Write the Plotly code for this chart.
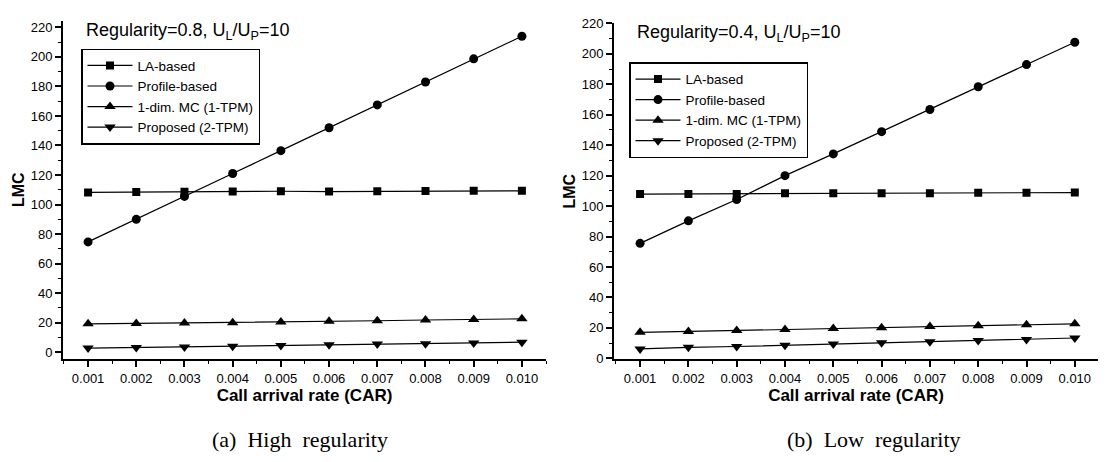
import plotly.graph_objects as go

car = [0.001, 0.002, 0.003, 0.004, 0.005, 0.006, 0.007, 0.008, 0.009, 0.010]
car_labels = ["0.001", "0.002", "0.003", "0.004", "0.005", "0.006", "0.007", "0.008", "0.009", "0.010"]

series_names = ["LA-based", "Profile-based", "1-dim. MC (1-TPM)", "Proposed (2-TPM)"]

# (a) High regularity
high_la = [108.2, 108.5, 108.6, 108.8, 109.0, 108.8, 109.0, 109.1, 109.4, 109.3]
high_profile = [74.7, 90.0, 105.5, 121.0, 136.5, 152.0, 167.5, 183.0, 198.7, 214.0]
high_1tpm = [19.2, 19.5, 19.8, 20.0, 20.5, 21.0, 21.3, 21.8, 22.2, 22.6]
high_2tpm = [2.8, 3.2, 3.6, 4.0, 4.5, 5.0, 5.5, 5.8, 6.2, 6.8]

# (b) Low regularity
low_la = [107.9, 108.0, 108.0, 108.5, 108.4, 108.5, 108.5, 108.8, 108.8, 108.9]
low_profile = [75.5, 90.3, 104.3, 120.0, 134.3, 148.9, 163.5, 178.4, 193.0, 207.7]
low_1tpm = [17.0, 17.6, 18.2, 18.9, 19.5, 20.1, 20.8, 21.4, 22.0, 22.6]
low_2tpm = [6.1, 7.2, 7.7, 8.5, 9.3, 10.1, 10.8, 11.6, 12.3, 13.3]

symbols = ["square", "circle", "triangle-up", "triangle-down"]
sizes = [8, 9, 10, 10]

W, H = 1106, 462
FONT = "Liberation Sans, Arial, sans-serif"
SERIF = "Liberation Serif, DejaVu Serif, serif"
NB = "\u00a0"

fig = go.Figure()

panels = [
    dict(data=[high_la, high_profile, high_1tpm, high_2tpm], xa="x", ya="y", legend="legend"),
    dict(data=[low_la, low_profile, low_1tpm, low_2tpm], xa="x2", ya="y2", legend="legend2"),
]

for p in panels:
    for name, vals, sym, sz in zip(series_names, p["data"], symbols, sizes):
        fig.add_trace(go.Scatter(
            x=car, y=vals, name=name, mode="lines+markers",
            line=dict(color="black", width=1.2),
            marker=dict(symbol=sym, size=sz, color="black"),
            xaxis=p["xa"], yaxis=p["ya"], legend=p["legend"],
        ))


def px_x(v):
    return v / W


def px_y(v):
    return 1 - v / H


axis_common = dict(
    showline=True, linecolor="black", linewidth=2, mirror=False,
    ticks="outside", ticklen=6, tickwidth=1.5, tickcolor="black",
    showgrid=False, zeroline=False,
    tickfont=dict(family=FONT, size=13, color="black"),
)

xaxis_common = dict(
    axis_common,
    tickvals=car, ticktext=car_labels,
    minor=dict(ticks="outside", ticklen=3, tickwidth=1.2, tickcolor="black", dtick=0.0005, tick0=0.0005),
    title=dict(text="<b>Call arrival rate (CAR)</b>", font=dict(family=FONT, size=17, color="black"), standoff=0),
)
yaxis_common = dict(
    axis_common,
    dtick=20, tick0=0,
    minor=dict(ticks="outside", ticklen=3, tickwidth=1.2, tickcolor="black", dtick=10, tick0=0),
    title=dict(text="<b>LMC</b>", font=dict(family=FONT, size=16, color="black"), standoff=2),
)

legend_common = dict(
    xanchor="left", yanchor="top",
    bordercolor="black", borderwidth=1.5, bgcolor="white",
    font=dict(family=FONT, size=13.5, color="black"),
    tracegroupgap=0, itemwidth=45,
)

fig.update_layout(
    width=W, height=H,
    margin=dict(l=0, r=0, t=0, b=0),
    paper_bgcolor="white", plot_bgcolor="white",
    showlegend=True,
    xaxis=dict(xaxis_common, domain=[px_x(63), px_x(546)], range=[0.00048, 0.0105], anchor="y"),
    yaxis=dict(yaxis_common, domain=[px_y(363), px_y(14)], range=[-4.6, 224.6], anchor="x"),
    xaxis2=dict(xaxis_common, domain=[px_x(614), px_x(1098)], range=[0.00046, 0.01048], anchor="y2"),
    yaxis2=dict(yaxis_common, domain=[px_y(363), px_y(17)], range=[-0.5, 220], anchor="x2"),
    legend=dict(legend_common, x=px_x(81), y=px_y(43)),
    legend2=dict(legend_common, x=px_x(629), y=px_y(57)),
    annotations=[
        dict(text="Regularity=0.8, U<sub>L</sub>/U<sub>P</sub>=10", xref="paper", yref="paper",
             x=px_x(84), y=px_y(25), xanchor="left", yanchor="middle", showarrow=False,
             font=dict(family=FONT, size=18, color="black")),
        dict(text="Regularity=0.4, U<sub>L</sub>/U<sub>P</sub>=10", xref="paper", yref="paper",
             x=px_x(635), y=px_y(27), xanchor="left", yanchor="middle", showarrow=False,
             font=dict(family=FONT, size=18, color="black")),
        dict(text="(a)" + NB * 2 + "High" + NB * 2 + "regularity", xref="paper", yref="paper",
             x=px_x(300), y=px_y(446), xanchor="center", yanchor="middle", showarrow=False,
             font=dict(family=SERIF, size=22, color="black")),
        dict(text="(b)" + NB * 2 + "Low" + NB * 2 + "regularity", xref="paper", yref="paper",
             x=px_x(874), y=px_y(446), xanchor="center", yanchor="middle", showarrow=False,
             font=dict(family=SERIF, size=22, color="black")),
    ],
)

fig.write_html("out.html")
